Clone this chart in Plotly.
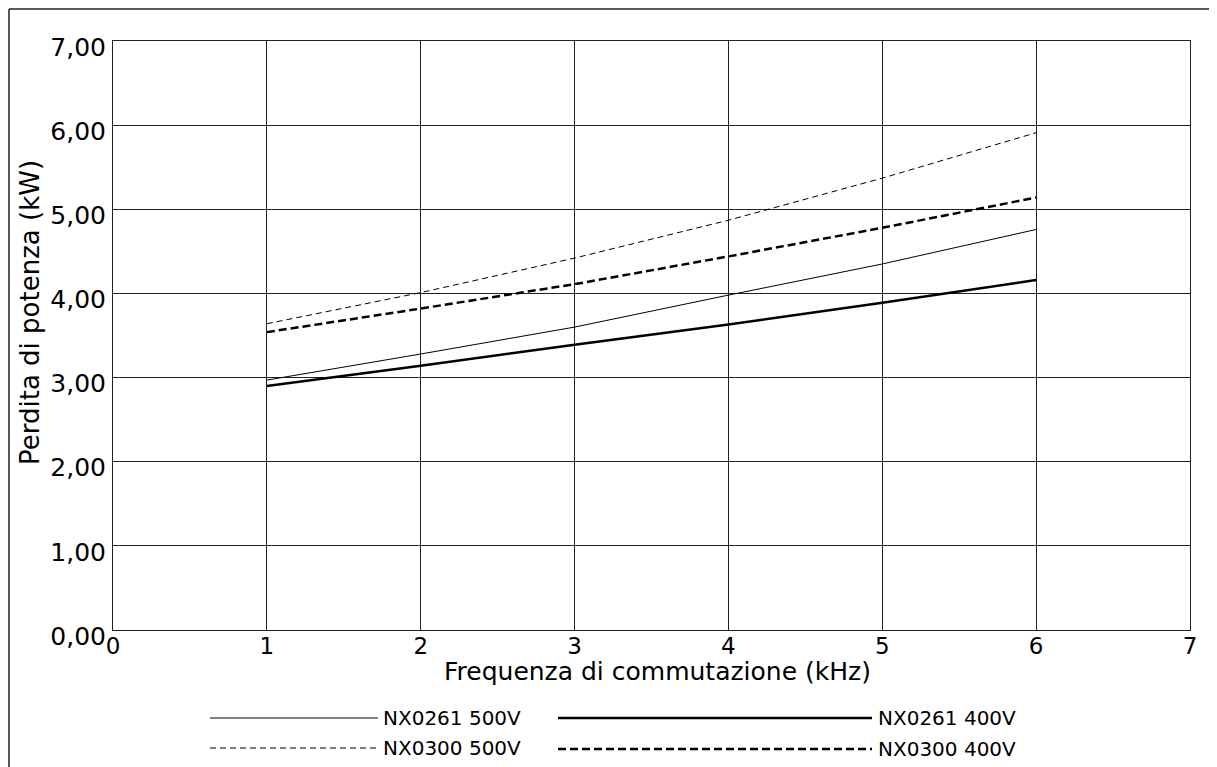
import plotly.graph_objects as go

freq_khz = [1, 2, 3, 4, 5, 6]
nx0261_500v = [2.97, 3.28, 3.60, 3.98, 4.35, 4.76]
nx0261_400v = [2.90, 3.14, 3.39, 3.63, 3.89, 4.16]
nx0300_500v = [3.64, 4.01, 4.42, 4.87, 5.37, 5.91]
nx0300_400v = [3.54, 3.82, 4.11, 4.44, 4.78, 5.14]

series = [
    ("NX0261 500V", nx0261_500v, 1.0, "solid"),
    ("NX0300 500V", nx0300_500v, 1.0, "6px,4px"),
    ("NX0261 400V", nx0261_400v, 2.5, "solid"),
    ("NX0300 400V", nx0300_400v, 2.5, "8px,4px"),
]

FONT = "DejaVu Sans"
OFF = 8  # page body margin
W, H = 1217 - OFF, 767 - OFF
# plot area in page pixels: left 113, right 1190, top 41, bottom 630
L, R, T, B = 113 - OFF, 1217 - 1190, 41 - OFF, 767 - 630

fig = go.Figure()
for name, vals, w, dash in series:
    fig.add_trace(go.Scatter(x=freq_khz, y=vals, mode="lines", name=name,
                             line=dict(color="black", width=w, dash=dash),
                             showlegend=False))

fig.update_layout(
    width=W, height=H,
    margin=dict(l=L, r=R, t=T, b=B),
    paper_bgcolor="white", plot_bgcolor="white",
    separators=",.",
    font=dict(family=FONT, color="black", size=20),
)
fig.update_xaxes(range=[0, 7], dtick=1, tick0=0, showgrid=True, gridcolor="#222",
                 gridwidth=1, showline=True, linecolor="#222", mirror=True,
                 zeroline=False, ticks="", tickfont=dict(size=23), ticklabelstandoff=-5)
fig.update_yaxes(range=[0, 7], dtick=1, tick0=0, tickformat=".2f", showgrid=True,
                 gridcolor="#222", gridwidth=1, showline=True, linecolor="#222",
                 mirror=True, zeroline=False, ticks="", tickfont=dict(size=25),
                 ticklabelshift=6, ticklabelstandoff=1)


def to_paper_x(px):  # page px -> paper
    return (px - OFF - L) / (W - L - R)


def to_paper_y(py):
    return (H - B - (py - OFF)) / (H - T - B)


shapes = []
# outer frame (left and top edges)
fx, fy = to_paper_x(9), to_paper_y(9)
shapes.append(dict(type="line", xref="paper", yref="paper", x0=fx, x1=fx,
                   y0=fy, y1=to_paper_y(800), line=dict(color="#222", width=1.5)))
shapes.append(dict(type="line", xref="paper", yref="paper", x0=fx, x1=to_paper_x(1230),
                   y0=fy, y1=fy, line=dict(color="#222", width=1.5)))

annotations = [
    dict(text="Frequenza di commutazione (kHz)", xref="paper", yref="paper",
         x=to_paper_x(657), y=to_paper_y(671), xanchor="center", yanchor="middle",
         showarrow=False, font=dict(size=25, family=FONT)),
    dict(text="Perdita di potenza (kW)", xref="paper", yref="paper", textangle=-90,
         x=to_paper_x(30), y=to_paper_y(313), xanchor="center", yanchor="middle",
         showarrow=False, font=dict(size=26, family=FONT)),
]

legend_items = [
    ("NX0261 500V", 210, 378, 718, 1.0, "solid", 381),
    ("NX0300 500V", 210, 378, 748, 1.0, "6px,4px", 381),
    ("NX0261 400V", 558, 872, 718, 2.5, "solid", 876),
    ("NX0300 400V", 558, 872, 749, 2.5, "8px,4px", 876),
]
for name, x0, x1, y, w, dash, tx in legend_items:
    shapes.append(dict(type="line", xref="paper", yref="paper",
                       x0=to_paper_x(x0), x1=to_paper_x(x1), y0=to_paper_y(y), y1=to_paper_y(y),
                       line=dict(color="black", width=w, dash=dash)))
    annotations.append(dict(text=name, xref="paper", yref="paper", x=to_paper_x(tx),
                            y=to_paper_y(y), xanchor="left", yanchor="middle",
                            showarrow=False, font=dict(size=20, family=FONT)))

fig.update_layout(shapes=shapes, annotations=annotations)
fig.write_html("out.html")
